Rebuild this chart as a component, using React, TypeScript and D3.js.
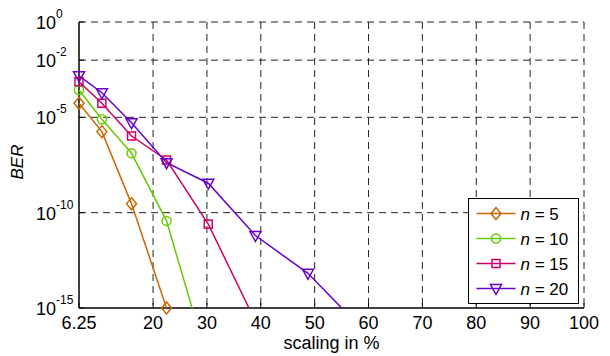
import * as d3 from "d3";
import React from "react";

// x values (scaling in %) shared by all series
const scaling = [6.25, 10.5, 16, 22.5, 30.25, 39, 48.75, 59.5];
const xTicks = [6.25, 20, 30, 40, 50, 60, 70, 80, 90, 100];
const yTickExps = [0, -2, -5, -10, -15];

// BER per series (points below 1e-15 are clipped)
const berN5 = [5.5e-5, 1.78e-6, 2.9e-10, 1e-15];
const berN10 = [2.7e-4, 7.9e-6, 1.3e-7, 3.7e-11, 1.3e-18];
const berN15 = [7.4e-4, 5.5e-5, 1.05e-6, 5.8e-8, 2.5e-11, 2e-16];
const berN20 = [1.5e-3, 1.95e-4, 5.2e-6, 4.2e-8, 3.5e-9, 6.3e-12, 6.6e-14, 5e-17];

const seriesLabels = ["5", "10", "15", "20"];
const seriesValues = [berN5, berN10, berN15, berN20];
const colors = ["#cc6600", "#66cc00", "#cc0066", "#6600cc"];
const markers = ["diamond", "circle", "square", "triangle"];

const W = 610, H = 356;
const m = { left: 79, top: 22, right: 26, bottom: 48 };
const font = "'Liberation Sans', Arial, sans-serif";

function Marker({ type, x, y, color }: { type: string; x: number; y: number; color: string }) {
    const common = { fill: "none", stroke: color, strokeWidth: 1.5 };
    if (type === "diamond") return <path d={`M${x},${y - 6}L${x + 5},${y}L${x},${y + 6}L${x - 5},${y}Z`} {...common} />;
    if (type === "circle") return <circle cx={x} cy={y} r={4.5} {...common} />;
    if (type === "square") return <rect x={x - 4} y={y - 4} width={8} height={8} {...common} />;
    return <path d={`M${x - 5.5},${y - 4}L${x + 5.5},${y - 4}L${x},${y + 6}Z`} {...common} />;
}

export default function App() {
    const x = d3.scaleLinear().domain([6.25, 100]).range([m.left, W - m.right]);
    const y = d3.scaleLog().domain([1e-15, 1]).range([H - m.bottom, m.top]);
    const x0 = x.range()[0], x1 = x.range()[1];
    const y0 = y.range()[0], y1 = y.range()[1];

    const line = d3.line<[number, number]>().x(d => x(d[0])).y(d => y(d[1]));

    return (
        <svg width={W} height={H} style={{ position: "absolute", left: 0, top: 0, background: "#fff" }} fontFamily={font}>
            <defs>
                <clipPath id="plot">
                    <rect x={x0} y={y1} width={x1 - x0} height={y0 - y1} />
                </clipPath>
            </defs>
            {/* grid */}
            {yTickExps.filter(e => e !== -15).map(e => (
                <line key={e} x1={x0} x2={x1} y1={y(Math.pow(10, e))} y2={y(Math.pow(10, e))}
                    stroke="#222" strokeDasharray="7 5" strokeWidth={1} />
            ))}
            {xTicks.filter(t => t !== 6.25).map(t => (
                <line key={t} x1={x(t)} x2={x(t)} y1={y1} y2={y0} stroke="#222" strokeDasharray="7 5" strokeWidth={1} />
            ))}
            {/* axes */}
            <line x1={x0} x2={x0} y1={y1} y2={y0} stroke="#000" strokeWidth={1.5} />
            <line x1={x0} x2={x1} y1={y0} y2={y0} stroke="#000" strokeWidth={1.5} />
            {xTicks.map(t => (
                <g key={t}>
                    <line x1={x(t)} x2={x(t)} y1={y0} y2={y0 - 5} stroke="#000" />
                    <text x={x(t)} y={y0 + 21} textAnchor="middle" fontSize={18}>{t}</text>
                </g>
            ))}
            {yTickExps.map(e => (
                <g key={e}>
                    <line x1={x0} x2={x0 + 5} y1={y(Math.pow(10, e))} y2={y(Math.pow(10, e))} stroke="#000" />
                    <text x={56} y={y(Math.pow(10, e)) + 7} textAnchor="end" fontSize={18}>10</text>
                    <text x={56} y={y(Math.pow(10, e)) - 4} fontSize={12}>{e}</text>
                </g>
            ))}
            <text x={(x0 + x1) / 2} y={349} textAnchor="middle" fontSize={18}>scaling in %</text>
            <text transform={`translate(23,${(y0 + y1) / 2 - 3}) rotate(-90)`} textAnchor="middle" fontSize={17} fontStyle="italic">BER</text>

            {/* series */}
            <g clipPath="url(#plot)">
                {seriesValues.map((vals, i) => (
                    <path key={i} d={line(vals.map((v, j) => [scaling[j], v] as [number, number])) ?? undefined}
                        fill="none" stroke={colors[i]} strokeWidth={1.5} />
                ))}
            </g>
            {seriesValues.map((vals, i) => vals.map((v, j) => v >= 1e-15 ? (
                <Marker key={`${i}-${j}`} type={markers[i]} x={x(scaling[j])} y={y(v)} color={colors[i]} />
            ) : null))}

            {/* legend */}
            <g transform="translate(468.5,198.5)">
                <rect width={110} height={105} fill="#fff" stroke="#000" strokeWidth={1} />
                {seriesLabels.map((lab, i) => (
                    <g key={lab} transform={`translate(0,${15 + i * 25})`}>
                        <line x1={8} x2={47} y1={0} y2={0} stroke={colors[i]} strokeWidth={1.5} />
                        <Marker type={markers[i]} x={27.5} y={0} color={colors[i]} />
                        <text x={52} y={6} fontSize={17}><tspan fontStyle="italic">n</tspan> = {lab}</text>
                    </g>
                ))}
            </g>
        </svg>
    );
}
